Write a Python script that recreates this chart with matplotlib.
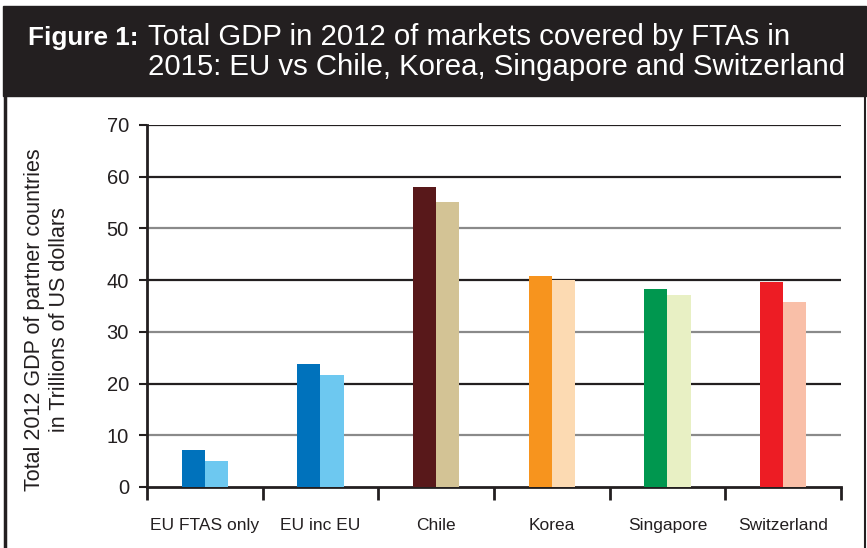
import numpy as np
import matplotlib.pyplot as plt
from matplotlib.patches import Rectangle
from matplotlib.lines import Line2D

# ── Data ──────────────────────────────────────────────────────────────────────
categories = ['EU FTAS only', 'EU inc EU', 'Chile', 'Korea', 'Singapore', 'Switzerland']
gdp_first  = [7.1, 23.7, 58.0, 40.8, 38.3, 39.6]
gdp_second = [5.0, 21.6, 55.1, 40.1, 37.1, 35.7]

dark_cols  = ['#0072bc', '#0072bc', '#58181a', '#f7941e', '#00974f', '#ed1c24']
light_cols = ['#6dc8f0', '#6dc8f0', '#d3c395', '#fcdab2', '#e8f0c4', '#f9bfa8']

FONT = 'Liberation Sans'
INK = '#231f20'

W, H = 867, 548
fig = plt.figure(figsize=(W / 100, H / 100), dpi=100)

# ── Header band and frame ────────────────────────────────────────────────────
fig.patches.append(Rectangle((3 / W, 1 - 96 / H), (866 - 3) / W, 90 / H,
                             transform=fig.transFigure, color=INK, zorder=0))
fig.lines.append(Line2D([4.5 / W, 4.5 / W], [0, 1 - 96 / H], transform=fig.transFigure,
                        color=INK, lw=2.5))
fig.lines.append(Line2D([865 / W, 865 / W], [0, 1 - 96 / H], transform=fig.transFigure,
                        color=INK, lw=1.5))

fig.text(28 / W, 1 - 45 / H, 'Figure 1:', color='white', fontsize=18.8,
         fontweight='bold', family=FONT, va='baseline')
fig.text(148 / W, 1 - 45 / H, 'Total GDP in 2012 of markets covered by FTAs in',
         color='white', fontsize=21.2, family=FONT, va='baseline')
fig.text(148 / W, 1 - 75 / H, '2015: EU vs Chile, Korea, Singapore and Switzerland',
         color='white', fontsize=21.2, family=FONT, va='baseline')

# ── Chart ────────────────────────────────────────────────────────────────────
ax = fig.add_axes([147 / W, 1 - 487 / H, (841 - 147) / W, (487 - 125) / H])
x = np.arange(len(categories))
bw = 0.2
for i in range(len(categories)):
    ax.bar(x[i] - bw / 2, gdp_first[i], bw, color=dark_cols[i], zorder=3)
    ax.bar(x[i] + bw / 2, gdp_second[i], bw, color=light_cols[i], zorder=3)

ax.set_xlim(-0.5, len(categories) - 0.5)
ax.set_ylim(0, 70)
ax.set_yticks(range(0, 71, 10))
for v in range(10, 71, 10):
    col = '#8a8a8a' if v in (10, 30, 50) else INK
    ax.axhline(v, color=col, lw=1.6, zorder=1)

ax.set_xticks(x)
ax.set_xticklabels(categories, family=FONT, fontsize=12.5, color=INK)
ax.set_xticks(np.arange(-0.5, len(categories)), minor=True)
ax.tick_params(axis='x', which='major', length=0, pad=22)
ax.tick_params(axis='x', which='minor', length=9, width=2, color=INK, direction='out')
ax.tick_params(axis='y', length=6, width=1.5, color=INK, pad=7,
               labelsize=14.5, labelcolor=INK)
for lab in ax.get_yticklabels():
    lab.set_family(FONT)

for s in ['top', 'right']:
    ax.spines[s].set_visible(False)
for s in ['left', 'bottom']:
    ax.spines[s].set_linewidth(2)
    ax.spines[s].set_color(INK)

fig.text(47 / W, 1 - 320 / H,
         'Total 2012 GDP of partner countries\nin Trillions of US dollars',
         rotation=90, ha='center', va='center', fontsize=15.5, family=FONT,
         color=INK, linespacing=1.3)

fig.savefig('out.png', dpi=100, facecolor='white')
